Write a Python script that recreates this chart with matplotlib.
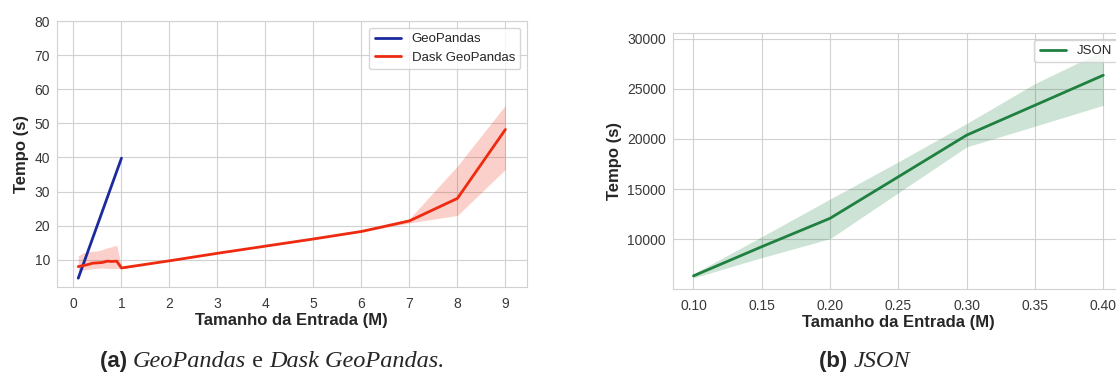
import matplotlib
matplotlib.use("Agg")
import matplotlib.pyplot as plt
import seaborn as sns

# (a) GeoPandas x Dask GeoPandas
geo_x = [0.1, 1.0]
geo_y = [4.6, 39.8]

dask_x = [0.1, 0.2, 0.3, 0.4, 0.5, 0.6, 0.7, 0.8, 0.9, 1.0, 2, 3, 4, 5, 6, 7, 8, 9]
dask_y = [8.0, 8.3, 8.6, 9.0, 9.1, 9.2, 9.6, 9.5, 9.6, 7.6, 9.7, 11.9, 14.0, 16.1, 18.3, 21.4, 28.0, 48.2]
dask_lo = [6.6, 7.0, 7.2, 7.4, 7.5, 7.6, 7.5, 7.4, 7.5, 7.4, 9.6, 11.8, 13.9, 16.0, 18.1, 20.8, 23.0, 36.5]
dask_hi = [11.2, 12.0, 12.3, 12.5, 12.6, 13.0, 13.5, 13.8, 14.3, 7.8, 9.8, 12.0, 14.1, 16.2, 18.5, 22.0, 37.5, 55.3]

# (b) JSON
json_x = [0.10, 0.15, 0.20, 0.25, 0.30, 0.35, 0.40]
json_y = [6350, 9260, 12090, 16230, 20380, 23360, 26350]
json_lo = [6150, 8170, 10060, 14640, 19210, 21270, 23360]
json_hi = [6550, 10260, 14010, 17720, 21540, 25520, 28800]

sns.set_style("whitegrid", {"grid.color": ".82", "axes.edgecolor": ".82"})
plt.rcParams["font.family"] = ["Liberation Sans", "DejaVu Sans"]
plt.rcParams["xtick.color"] = ".22"
plt.rcParams["ytick.color"] = ".22"
plt.rcParams["xtick.labelsize"] = 10
plt.rcParams["ytick.labelsize"] = 10

fig = plt.figure(figsize=(11.16, 3.76), dpi=100)

azul = "#1b2a9e"
verm = "#ee2b10"
verde = "#1f8040"

ax1 = fig.add_axes([0.051, 0.237, 0.421, 0.707])
ax1.plot(geo_x, geo_y, color=azul, lw=2, label="GeoPandas")
ax1.plot(dask_x, dask_y, color=verm, lw=2, label="Dask GeoPandas")
ax1.fill_between(dask_x, dask_lo, dask_hi, color=verm, alpha=0.22, lw=0)
ax1.set_xlim(-0.345, 9.445)
ax1.set_ylim(2.05, 80)
ax1.set_xticks(range(0, 10))
ax1.set_yticks(range(10, 81, 10))
ax1.legend(loc="upper right", fontsize=9.5, frameon=True)

ax2 = fig.add_axes([0.603, 0.231, 0.404, 0.681])
ax2.plot(json_x, json_y, color=verde, lw=2, label="JSON")
ax2.fill_between(json_x, json_lo, json_hi, color=verde, alpha=0.22, lw=0)
ax2.set_xlim(0.085, 0.415)
ax2.set_ylim(5030, 30550)
ax2.set_xticks(json_x)
ax2.set_xticklabels(["%.2f" % v for v in json_x])
ax2.set_yticks(range(10000, 30001, 5000))
ax2.legend(loc="upper right", fontsize=9.5, frameon=True)

for ax in (ax1, ax2):
    ax.tick_params(axis="x", length=0, pad=7)
    ax.tick_params(axis="y", length=0, pad=5)
    ax.set_xlabel("Tamanho da Entrada (M)", fontsize=12, fontweight="bold", labelpad=1.5)
    ax.set_ylabel("Tempo (s)", fontsize=12, fontweight="bold", labelpad=4)

# legendas das subfiguras
sans = ["Liberation Sans", "DejaVu Sans"]
serif = ["Liberation Serif", "DejaVu Serif"]
legendas = [
    (0.244, [("(a) ", "bold", "normal", sans, 16),
             ("GeoPandas", "normal", "italic", serif, 17.5),
             (" e ", "normal", "normal", serif, 17.5),
             ("Dask GeoPandas.", "normal", "italic", serif, 17.5)]),
    (0.775, [("(b) ", "bold", "normal", sans, 16),
             ("JSON", "normal", "italic", serif, 17.5)]),
]
r = fig.canvas.get_renderer()
for xc, partes in legendas:
    textos = []
    for s, peso, estilo, fam, tam in partes:
        textos.append(fig.text(0, 0.024, s, fontsize=tam, fontweight=peso,
                               style=estilo, family=fam))
    larguras = [t.get_window_extent(r).width / fig.bbox.width for t in textos]
    x = xc - sum(larguras) / 2
    for t, w in zip(textos, larguras):
        t.set_x(x)
        x += w

fig.savefig("out.png", dpi=100)
